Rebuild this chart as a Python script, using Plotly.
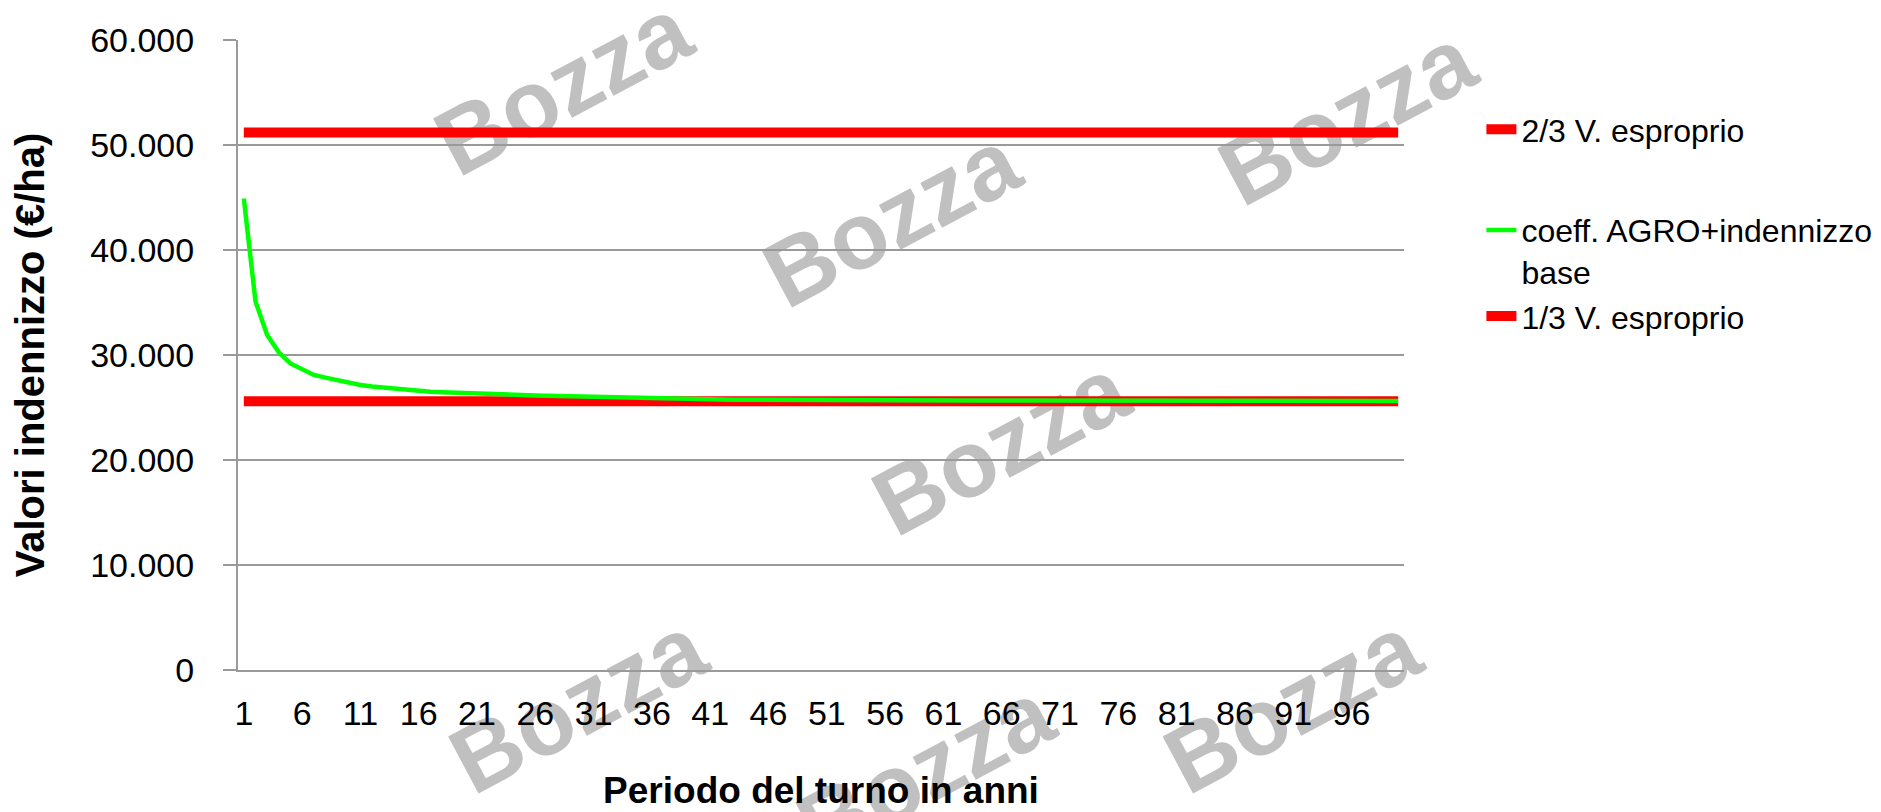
import plotly.graph_objects as go

# ---------------- data ----------------
anni = list(range(1, 101))
x_tick_vals = list(range(1, 101, 5))
x_tick_text = [str(v) for v in x_tick_vals]
y_tick_vals = [0, 10000, 20000, 30000, 40000, 50000, 60000]
y_tick_text = ["0", "10.000", "20.000", "30.000", "40.000", "50.000", "60.000"]

due_terzi_esproprio = [51200] * 100
un_terzo_esproprio = [25600] * 100
coeff_agro = [
    44900, 35100, 31900, 30250, 29200, 28600, 28100, 27850, 27600, 27300,
    27150, 27000, 26900, 26750, 26600, 26550, 26500, 26450, 26400, 26350,
    26300, 26270, 26240, 26210, 26180, 26150, 26120, 26090, 26060, 26030,
    26000, 25975, 25950, 25925, 25900, 25875, 25850, 25830, 25810, 25790,
    25775, 25760, 25750, 25740, 25730, 25720, 25715, 25710, 25705, 25700,
    25695, 25690, 25690, 25685, 25680, 25680, 25675, 25675, 25670, 25670,
    25665, 25665, 25660, 25660, 25660, 25655, 25655, 25655, 25650, 25650,
    25650, 25650, 25645, 25645, 25645, 25645, 25640, 25640, 25640, 25640,
    25640, 25640, 25635, 25635, 25635, 25635, 25635, 25630, 25630, 25630,
    25630, 25630, 25630, 25625, 25625, 25625, 25625, 25625, 25620, 25620,
]

serie_nomi = ["2/3 V. esproprio", "coeff. AGRO+indennizzo<br>base", "1/3 V. esproprio"]

# watermark anchor points in pixels (page coords)
watermark_px = [(553, 70), (1343, 100), (884, 202), (994, 430), (568, 688), (918, 754), (1288, 688)]

# ---------------- layout geometry ----------------
W, H = 1881, 812
L, R, T, B = 230, 476, 32, 150
pw, ph = W - L - R, H - T - B

FONT = "Liberation Sans, Arial, sans-serif"
GRID = "#9a9a9a"

fig = go.Figure()
fig.add_trace(go.Scatter(x=anni, y=due_terzi_esproprio, mode="lines", name=serie_nomi[0],
                         line=dict(color="#ff0000", width=10), legendgroup="a", legendrank=1))
fig.add_trace(go.Scatter(x=anni, y=un_terzo_esproprio, mode="lines", name=serie_nomi[2],
                         line=dict(color="#ff0000", width=10), legendgroup="b", legendrank=3))
fig.add_trace(go.Scatter(x=anni, y=coeff_agro, mode="lines", name=serie_nomi[1],
                         line=dict(color="#00ff00", width=4.5), legendgroup="b", legendrank=2))

shapes = []
for (cx, cy) in watermark_px:
    xp = (cx - L) / pw
    yp = (H - B - cy) / ph
    shapes.append(dict(
        type="rect", xref="paper", yref="paper",
        x0=xp - 0.001, x1=xp + 0.001, y0=yp - 0.001, y1=yp + 0.001,
        line=dict(width=0), fillcolor="rgba(0,0,0,0)", layer="below",
        label=dict(text="Bozza", textangle=-28, textposition="middle center",
                   font=dict(family=FONT, size=94, color="#c0c0c0", weight="bold")),
    ))

fig.update_layout(
    width=W, height=H,
    margin=dict(l=L, r=R, t=T, b=B),
    paper_bgcolor="white", plot_bgcolor="white",
    font=dict(family=FONT, size=32, color="black"),
    shapes=shapes,
    showlegend=True,
    legend=dict(
        x=(1483 - L) / pw, xanchor="left",
        y=(H - B - 94) / ph, yanchor="top",
        font=dict(family=FONT, size=32, color="black"),
        traceorder="grouped", tracegroupgap=56, valign="top",
        bgcolor="rgba(0,0,0,0)", itemwidth=30,
    ),
    xaxis=dict(
        range=[0.5, 100.5], tickvals=x_tick_vals, ticktext=x_tick_text,
        showgrid=False, zeroline=False, showline=True, linecolor=GRID, linewidth=2,
        ticks="", ticklabelstandoff=12, tickangle=0,
        tickfont=dict(family=FONT, size=34),
        title=dict(text="<b>Periodo del turno in anni</b>", standoff=46,
                   font=dict(family=FONT, size=37)),
    ),
    yaxis=dict(
        range=[0, 60000], tickvals=y_tick_vals, ticktext=y_tick_text,
        showgrid=True, gridcolor=GRID, gridwidth=2, zeroline=False,
        showline=True, linecolor=GRID, linewidth=2,
        ticks="outside", ticklen=13, tickcolor=GRID, tickwidth=2,
        ticklabelstandoff=22,
        tickfont=dict(family=FONT, size=34),
        title=dict(text="<b>Valori indennizzo (€/ha)</b>", standoff=34,
                   font=dict(family=FONT, size=40)),
    ),
)

fig.write_html("out.html")
